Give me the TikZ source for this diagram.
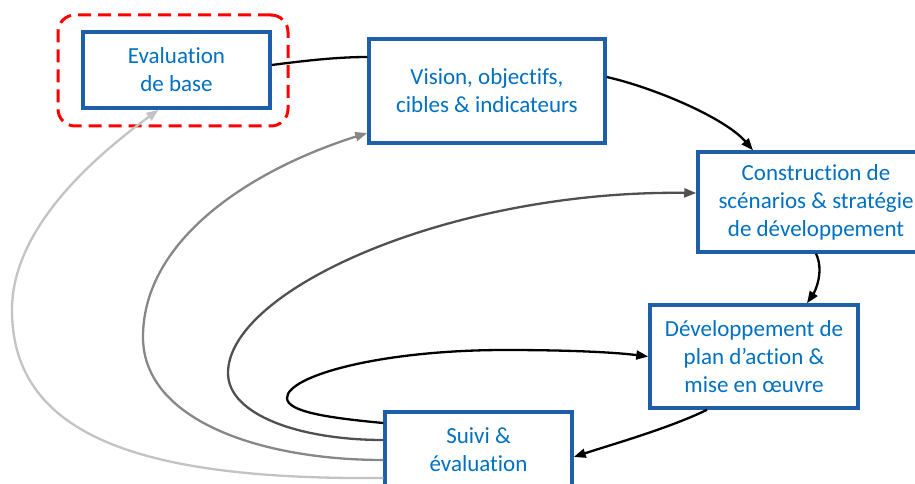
\documentclass[tikz,border=0pt]{standalone}
\usepackage{fontspec}
\setmainfont{Carlito}[Ligatures={NoCommon}]
\usetikzlibrary{arrows.meta}
\definecolor{txtblue}{RGB}{0,112,192}
\definecolor{boxblue}{RGB}{31,95,170}
\definecolor{loopA}{RGB}{0,0,0}
\definecolor{loopB}{RGB}{80,80,80}
\definecolor{loopC}{RGB}{135,135,135}
\definecolor{loopD}{RGB}{195,195,195}
\tikzset{
  stagebox/.style={draw=boxblue, line width=3.5pt, fill=white, text=txtblue,
    align=center, inner sep=0pt, font=\fontsize{23}{28}\selectfont},
  highlight/.style={draw=red, line width=3pt, dash pattern=on 13pt off 7pt,
    rounded corners=17pt, inner sep=0pt},
  flow/.style={line width=2.3pt, -{Triangle[length=12pt,width=9pt]}},
}
\begin{document}
\begin{tikzpicture}[x=1pt,y=-1pt]
\useasboundingbox (0,0) rectangle (915,484);
\clip (0,0) rectangle (915,484);

% stages of the cycle
\node[highlight, minimum width=230pt, minimum height=111pt] (focus) at (173,70.5) {};
\node[stagebox, minimum width=187pt, minimum height=76pt] (eval) at (176.5,70) {Evaluation\\de base};
\node[stagebox, minimum width=236pt, minimum height=104pt] (vision) at (487,91) {Vision, objectifs,\\cibles \& indicateurs};
\node[stagebox, minimum width=236pt, minimum height=100pt] (constr) at (816,202) {Construction de\\scénarios \& stratégie\\de développement};
\node[stagebox, minimum width=208pt, minimum height=103pt] (dev) at (754,356.5) {Développement de\\plan d’action \&\\mise en œuvre};
\node[stagebox, minimum width=187pt, minimum height=76pt] (suivi) at (478.5,450) {Suivi \&\\évaluation};

% main sequence
\draw[line width=2.3pt] ([yshift=5pt]eval.east) .. controls (310,60) and (340,57) .. ([yshift=34pt]vision.west);
\draw[flow] ([yshift=14pt]vision.east) .. controls (655,88) and (725,118) .. ([xshift=-63pt]constr.north);
\draw[flow] (constr.south) .. controls (824,270) and (816,290) .. ([xshift=53pt]dev.north);
\draw[flow] ([xshift=-47pt]dev.south) .. controls (670,428) and (610,445) .. ([yshift=-7pt]suivi.east);

% feedback loops from monitoring
\draw[flow, loopA] ([yshift=27pt]suivi.west) .. controls (330,418) and (287,412) .. (287,398)
  .. controls (287,376) and (380,350) .. (505,350)
  .. controls (580,350) and (620,353) .. (dev.west);
\draw[flow, loopB] ([yshift=10pt]suivi.west) .. controls (300,440) and (228,415) .. (228,373)
  .. controls (228,290) and (450,190) .. ([yshift=9pt]constr.west);
\draw[flow, loopC] ([yshift=-10pt]suivi.west) .. controls (260,460) and (143,420) .. (143,337)
  .. controls (143,240) and (250,170) .. ([yshift=-42pt]vision.west);
\draw[flow, loopD] ([yshift=-28pt]suivi.west) .. controls (150,480) and (12,440) .. (12,310)
  .. controls (12,230) and (90,160) .. ([xshift=-18pt]eval.south);
\end{tikzpicture}
\end{document}
